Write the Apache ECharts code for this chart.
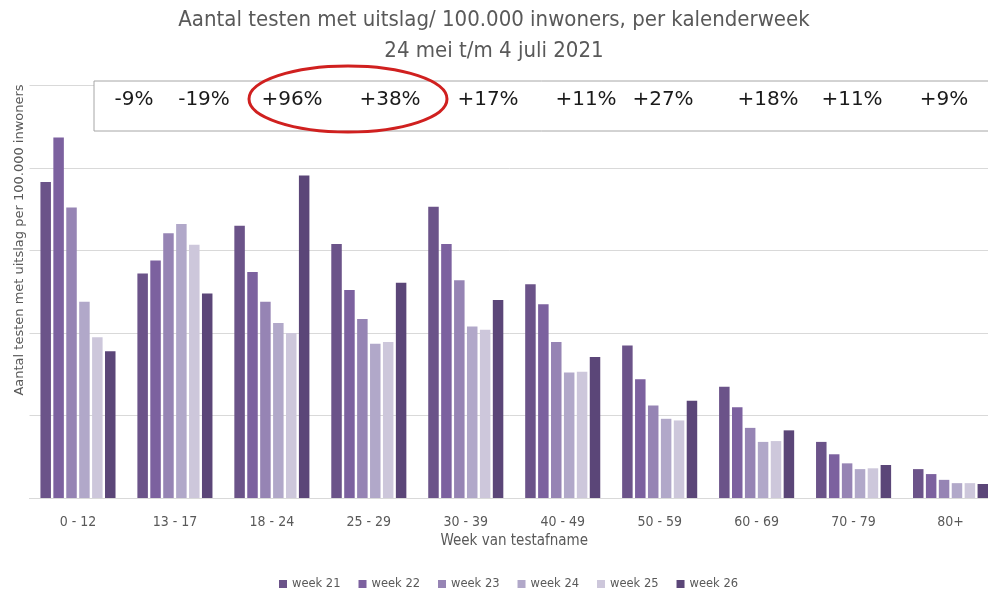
<!DOCTYPE html>
<html>
<head>
<meta charset="utf-8">
<script src="https://cdn.jsdelivr.net/npm/echarts@6/dist/echarts.min.js"></script>
<style>
  html, body { margin: 0; padding: 0; background: #fff; }
  #chart { width: 988px; height: 594px; }
</style>
</head>
<body>
<div id="chart"></div>
<script>
// leeftijdsgroepen
const ageGroups = ["0 - 12", "13 - 17", "18 - 24", "25 - 29", "30 - 39", "40 - 49", "50 - 59", "60 - 69", "70 - 79", "80+"];
const weekNames = ["week 21", "week 22", "week 23", "week 24", "week 25", "week 26"];
const week21 = [3.83, 2.72, 3.30, 3.08, 3.53, 2.59, 1.85, 1.35, 0.68, 0.35];
const week22 = [4.37, 2.88, 2.74, 2.52, 3.08, 2.35, 1.44, 1.10, 0.53, 0.29];
const week23 = [3.52, 3.21, 2.38, 2.17, 2.64, 1.89, 1.12, 0.85, 0.42, 0.22];
const week24 = [2.38, 3.32, 2.12, 1.87, 2.08, 1.52, 0.96, 0.68, 0.35, 0.18];
const week25 = [1.95, 3.07, 2.00, 1.89, 2.04, 1.53, 0.94, 0.69, 0.36, 0.18];
const week26 = [1.78, 2.48, 3.91, 2.61, 2.40, 1.71, 1.18, 0.82, 0.40, 0.17];
const weekData = [week21, week22, week23, week24, week25, week26];
// verandering week 25 -> 26
const changeLabels = ["-9%", "-19%", "+96%", "+38%", "+17%", "+11%", "+27%", "+18%", "+11%", "+9%"];

const colors = ["#6b5389", "#7c619f", "#9684b4", "#b1a8c9", "#cdc7db", "#5b4678"];
const changeX = [134, 204, 292, 390, 488, 586, 663, 768, 852, 944];

var myChart = echarts.init(document.getElementById("chart"));

const series = weekData.map((d, i) => ({
  name: weekNames[i],
  type: "bar",
  data: d,
  barWidth: 10.5,
  barGap: "23%",
  itemStyle: { color: colors[i] },
}));

const graphic = [
  {
    type: "rect",
    shape: { x: 94, y: 81, width: 900, height: 50 },
    style: { fill: "#fff", stroke: "#a6a6a6", lineWidth: 1 },
    z: 10,
  },
  {
    type: "ellipse",
    shape: { cx: 348, cy: 99, rx: 99, ry: 33 },
    style: { fill: "none", stroke: "#d0201f", lineWidth: 3 },
    z: 12,
  },
  {
    type: "text",
    x: 20,
    y: 240,
    rotation: Math.PI / 2,
    style: {
      text: "Aantal testen met uitslag per 100.000 inwoners",
      font: "13px 'DejaVu Sans'",
      fill: "#595959",
      textAlign: "center",
      textVerticalAlign: "middle",
    },
  },
];
changeLabels.forEach((t, i) => {
  graphic.push({
    type: "text",
    x: changeX[i],
    y: 100,
    style: {
      text: t,
      font: "20px 'DejaVu Sans'",
      fill: "#1a1a1a",
      textAlign: "center",
      textVerticalAlign: "middle",
    },
    z: 11,
  });
});

myChart.setOption({
  animation: false,
  title: {
    left: "center",
    top: 0,
    text: "Aantal testen met uitslag/ 100.000 inwoners, per kalenderweek\n24 mei t/m 4 juli 2021",
    textStyle: {
      fontFamily: "'Liberation Sans Narrow', 'DejaVu Sans Condensed'",
      fontSize: 22,
      fontWeight: "normal",
      color: "#595959",
      lineHeight: 31,
    },
  },
  legend: {
    data: weekNames,
    left: 274,
    top: 573,
    icon: "rect",
    itemWidth: 8,
    itemHeight: 8,
    itemGap: 18,
    textStyle: { fontFamily: "'DejaVu Sans'", fontSize: 11.5, color: "#595959" },
  },
  grid: {
    left: 29.5,
    right: -11,
    top: 85.5,
    bottom: 96,
    outerBoundsMode: "none",
  },
  xAxis: {
    type: "category",
    data: ageGroups,
    name: "Week van testafname",
    nameLocation: "middle",
    nameGap: 36,
    nameTextStyle: {
      fontFamily: "'Liberation Sans Narrow', 'DejaVu Sans Condensed'",
      fontSize: 15,
      color: "#595959",
    },
    axisTick: { show: false },
    axisLine: { lineStyle: { color: "#d9d9d9" } },
    axisLabel: {
      margin: 17,
      fontFamily: "'Liberation Sans Narrow', 'DejaVu Sans Condensed'",
      fontSize: 14,
      color: "#595959",
    },
  },
  yAxis: {
    type: "value",
    min: 0,
    max: 5,
    interval: 1,
    axisLabel: { show: false },
    axisLine: { show: false },
    axisTick: { show: false },
    splitLine: { lineStyle: { color: "#d9d9d9" } },
  },
  graphic: graphic,
  series: series,
});
</script>
</body>
</html>
